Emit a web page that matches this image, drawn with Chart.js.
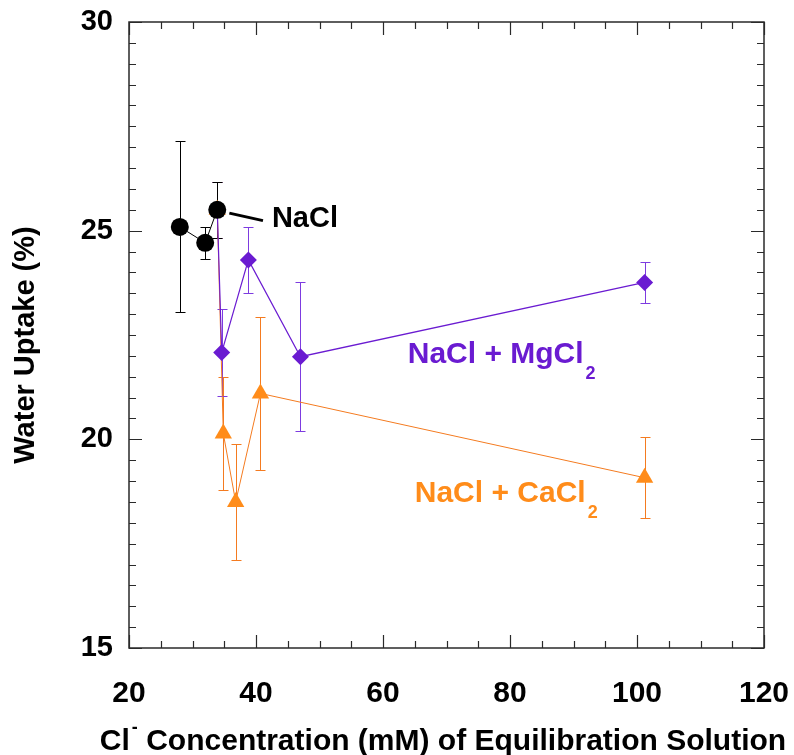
<!DOCTYPE html>
<html>
<head>
<meta charset="utf-8">
<title>Water uptake vs. Cl- concentration</title>
<script src="https://cdn.jsdelivr.net/npm/chart.js@4.4.1/dist/chart.umd.min.js"></script>
<style>
  html, body { margin: 0; padding: 0; background: #fff; }
  #wrap { width: 794px; height: 755px; }
</style>
</head>
<body>
<div id="wrap"><canvas id="uptake" width="794" height="755"></canvas></div>
<script>
// Cl- concentration (mM), water uptake (%) and +/- error per series
const naclX   = [28.0, 32.0, 33.9];
const naclY   = [25.09, 24.71, 25.50];
const naclErr = [2.05, 0.38, 0.67];

const mgX   = [33.9, 34.6, 38.8, 47.0, 101.2];
const mgY   = [25.50, 22.08, 24.30, 21.98, 23.76];
const mgErr = [0.67, 1.04, 0.79, 1.78, 0.49];

const caX   = [33.9, 34.85, 36.8, 40.7, 101.2];
const caY   = [25.50, 20.14, 18.50, 21.10, 19.08];
const caErr = [0.67, 1.36, 1.40, 1.83, 0.97];

const xTicks = [20, 40, 60, 80, 100, 120];
const yTicks = [15, 20, 25, 30];

const FONT = "'Liberation Sans', Arial, Helvetica, sans-serif";
const PURPLE = '#6a1bd1';
const PURPLE_BAR = '#7d3be0';
const ORANGE = '#ff8c1a';
const ORANGE_LINE = '#f47b20';

Chart.defaults.font.family = FONT;
Chart.defaults.color = '#000';

const toPoints = (xs, ys) => xs.map((x, i) => ({ x: x, y: ys[i] }));

// vertical error bars with caps, drawn under the markers
const errorBars = {
  id: 'errorBars',
  beforeDatasetsDraw(chart) {
    const { ctx, scales: { x, y } } = chart;
    ctx.save();
    ctx.lineWidth = 1;
    for (let i = chart.data.datasets.length - 1; i >= 0; i--) {
      const ds = chart.data.datasets[i];
      ctx.strokeStyle = ds.barColor;
      ds.data.forEach((p, j) => {
        const e = ds.errors[j];
        if (!e) return;
        const px = Math.round(x.getPixelForValue(p.x)) + 0.5;
        const top = Math.round(y.getPixelForValue(p.y + e)) + 0.5;
        const bot = Math.round(y.getPixelForValue(p.y - e)) + 0.5;
        ctx.beginPath();
        ctx.moveTo(px, top); ctx.lineTo(px, bot);
        ctx.moveTo(px - 5, top); ctx.lineTo(px + 5, top);
        ctx.moveTo(px - 5, bot); ctx.lineTo(px + 5, bot);
        ctx.stroke();
      });
    }
    ctx.restore();
  }
};

// closed frame with inward major/minor ticks on every side
const frame = {
  id: 'frame',
  afterDraw(chart) {
    const { ctx, chartArea: a, scales: { x, y } } = chart;
    ctx.save();
    ctx.strokeStyle = '#2a2a2a';
    ctx.lineWidth = 1.5;
    ctx.strokeRect(a.left, a.top, a.right - a.left, a.bottom - a.top);
    ctx.lineWidth = 1.2;
    ctx.beginPath();
    for (let v = 15; v <= 30; v += 0.5) {
      const len = v % 5 === 0 ? 13 : 7;
      const py = Math.round(y.getPixelForValue(v)) + 0.5;
      ctx.moveTo(a.left, py); ctx.lineTo(a.left + len, py);
      ctx.moveTo(a.right, py); ctx.lineTo(a.right - len, py);
    }
    for (let v = 20; v <= 120; v += 5) {
      const len = v % 20 === 0 ? 13 : 7;
      const px = Math.round(x.getPixelForValue(v)) + 0.5;
      ctx.moveTo(px, a.bottom); ctx.lineTo(px, a.bottom - len);
      ctx.moveTo(px, a.top); ctx.lineTo(px, a.top + len);
    }
    ctx.stroke();
    ctx.restore();
  }
};

// series labels and axis titles
const labels = {
  id: 'labels',
  afterDraw(chart) {
    const { ctx, scales: { x, y } } = chart;
    const X = v => x.getPixelForValue(v);
    const Y = v => y.getPixelForValue(v);
    ctx.save();
    ctx.textBaseline = 'alphabetic';

    // NaCl with leader line
    ctx.strokeStyle = '#000';
    ctx.lineWidth = 3;
    ctx.beginPath();
    ctx.moveTo(X(35.8), Y(25.42));
    ctx.lineTo(X(41.1), Y(25.24));
    ctx.stroke();
    ctx.fillStyle = '#000';
    ctx.font = 'bold 29px ' + FONT;
    ctx.textAlign = 'left';
    ctx.fillText('NaCl', X(42.5), Y(25.09));

    const withSub = (main, sub, color, vx, vy) => {
      ctx.fillStyle = color;
      ctx.font = 'bold 30px ' + FONT;
      const bx = X(vx), by = Y(vy);
      ctx.fillText(main, bx, by);
      const w = ctx.measureText(main).width;
      ctx.font = 'bold 18px ' + FONT;
      ctx.fillText(sub, bx + w + 2, by + 16);
    };
    withSub('NaCl + MgCl', '2', PURPLE, 63.9, 21.84);
    withSub('NaCl + CaCl', '2', ORANGE, 65.0, 18.5);

    // y title
    ctx.fillStyle = '#000';
    ctx.font = 'bold 29px ' + FONT;
    ctx.save();
    ctx.translate(34, 345);
    ctx.rotate(-Math.PI / 2);
    ctx.textAlign = 'center';
    ctx.fillText('Water Uptake (%)', 0, 0);
    ctx.restore();

    // x title: Cl with superscript minus
    const big = 'bold 30px ' + FONT;
    const small = 'bold 18px ' + FONT;
    ctx.font = big;
    const wCl = ctx.measureText('Cl').width;
    const rest = ' Concentration (mM) of Equilibration Solution';
    const wRest = ctx.measureText(rest).width;
    ctx.font = small;
    const wSup = ctx.measureText('-').width;
    const total = wCl + 2 + wSup + wRest;
    let tx = 443 - total / 2;
    const ty = 750;
    ctx.textAlign = 'left';
    ctx.font = big;
    ctx.fillText('Cl', tx, ty);
    tx += wCl + 2;
    ctx.font = small;
    ctx.fillText('-', tx, ty - 17);
    tx += wSup;
    ctx.font = big;
    ctx.fillText(rest, tx, ty);
    ctx.restore();
  }
};

new Chart(document.getElementById('uptake'), {
  type: 'scatter',
  data: {
    datasets: [
      {
        label: 'NaCl',
        data: toPoints(naclX, naclY),
        errors: naclErr,
        barColor: '#000',
        showLine: true,
        borderColor: '#000',
        borderWidth: 1,
        backgroundColor: '#000',
        pointStyle: 'circle',
        pointRadius: 9,
        pointBorderWidth: 0
      },
      {
        label: 'NaCl + MgCl2',
        data: toPoints(mgX, mgY),
        errors: mgErr,
        barColor: PURPLE_BAR,
        showLine: true,
        borderColor: PURPLE,
        borderWidth: 1.2,
        backgroundColor: PURPLE,
        pointStyle: 'rectRot',
        pointRadius: 8.5,
        pointBorderWidth: 0
      },
      {
        label: 'NaCl + CaCl2',
        data: toPoints(caX, caY),
        errors: caErr,
        barColor: ORANGE_LINE,
        showLine: true,
        borderColor: ORANGE_LINE,
        borderWidth: 1,
        backgroundColor: ORANGE,
        pointStyle: 'triangle',
        pointRadius: 10,
        pointBorderWidth: 0
      }
    ]
  },
  options: {
    responsive: false,
    animation: false,
    layout: { padding: { top: 22, right: 30, left: 0, bottom: 0 } },
    plugins: { legend: { display: false }, tooltip: { enabled: false } },
    scales: {
      x: {
        type: 'linear',
        min: 20,
        max: 120,
        afterBuildTicks: s => { s.ticks = xTicks.map(v => ({ value: v })); },
        afterFit: s => { s.height = 107; s.paddingLeft = 0; s.paddingRight = 0; },
        grid: { display: false, drawTicks: false },
        border: { display: false },
        ticks: { font: { size: 30, weight: 'bold' }, color: '#000', padding: 28, maxRotation: 0 }
      },
      y: {
        type: 'linear',
        min: 15,
        max: 30,
        afterBuildTicks: s => { s.ticks = yTicks.map(v => ({ value: v })); },
        afterFit: s => { s.width = 129; s.paddingTop = 0; s.paddingBottom = 0; },
        grid: { display: false, drawTicks: false },
        border: { display: false },
        ticks: { font: { size: 29, weight: 'bold' }, color: '#000', padding: 16 }
      }
    }
  },
  plugins: [errorBars, frame, labels]
});
</script>
</body>
</html>
